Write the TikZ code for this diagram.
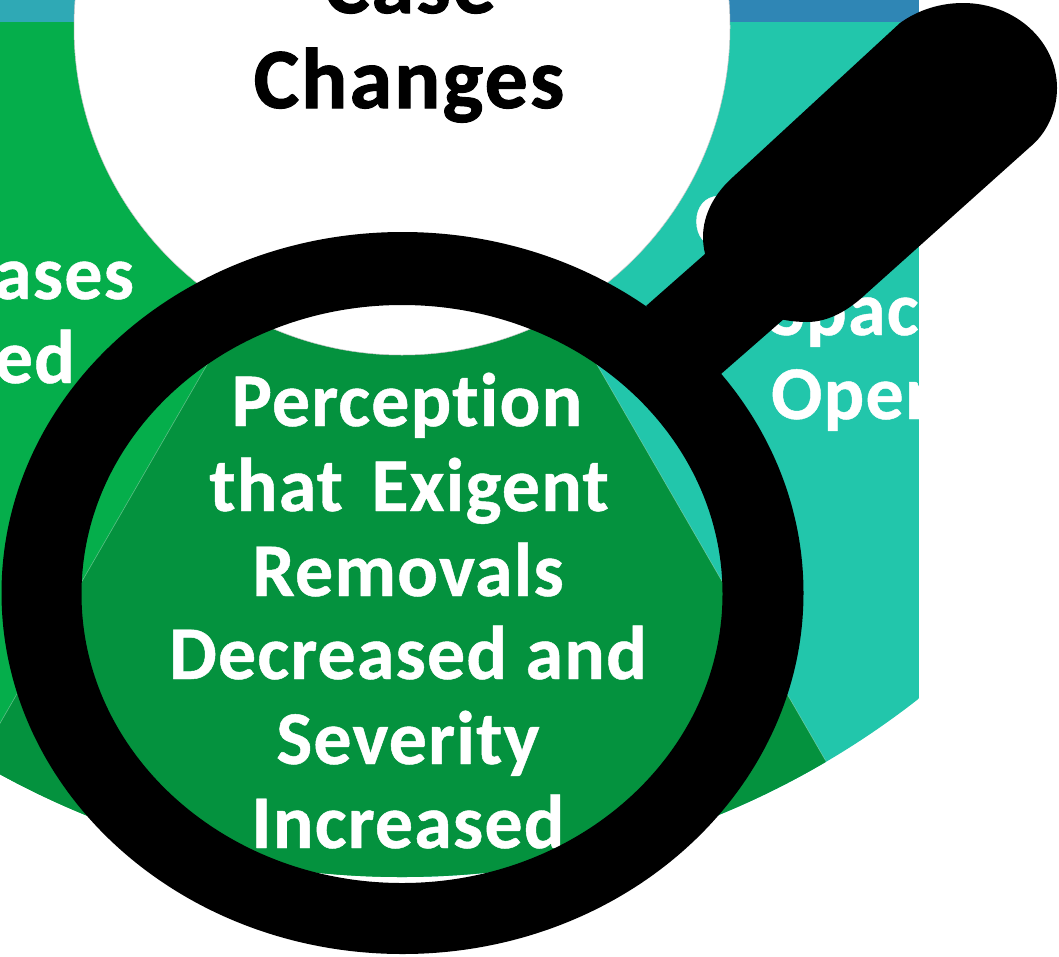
\documentclass[tikz,border=0pt]{standalone}
\usepackage{fontspec}
\setmainfont{Carlito}
\newfontfamily\glw{Carlito}[Ligatures=NoCommon,LetterSpace=1.5,BoldFeatures={FakeBold=0.6}]
\newfontfamily\glb{Carlito}[Ligatures=NoCommon,LetterSpace=2.5,BoldFeatures={FakeBold=1.2}]
\tikzset{
  lbl/.style={anchor=base,inner sep=0pt,outer sep=0pt,text=white,font=\glw\fontsize{76}{76}\selectfont\bfseries},
  blk/.style={lbl,text=black,font=\glb\fontsize{86}{86}\selectfont\bfseries},
  seam/.style={draw=white,draw opacity=.35,line width=.6pt}
}
\definecolor{lgreen}{HTML}{05AE4B}
\definecolor{dgreen}{HTML}{04923E}
\definecolor{teal2}{HTML}{22C6AB}
\definecolor{topl}{HTML}{2FA9B5}
\definecolor{topr}{HTML}{2F86B5}
\begin{document}
\begin{tikzpicture}[x=1pt,y=-1pt]
\useasboundingbox (0,0) rectangle (1059,956);
\coordinate (c) at (402,27);
\coordinate (bl) at (-21.5,760.5);
\coordinate (br) at (825.5,760.5);
\begin{scope}
  \clip (0,0) rectangle (919,956);
  \begin{scope}
    \clip (402,27) ellipse [x radius=843,y radius=850];
    \fill[lgreen] (0,22) rectangle (402,956);
    \fill[teal2] (402,22) rectangle (919,956);
    \fill[dgreen] (c) -- (bl) -- (-21.5,956) -- (825.5,956) -- (br) -- cycle;
    \path[seam] (c) -- (bl);
    \path[seam] (c) -- (br);
  \end{scope}
  \fill[topl] (0,0) rectangle (402,22);
  \fill[topr] (402,0) rectangle (919,22);
  \fill[white] (c) circle [radius=328];
  \draw[gray!45,line width=.5pt] (c) circle [radius=328];
  \node[blk] (case) at (410,13) {Case};
  \node[blk] (changes) at (409,108) {Changes};
  \node[lbl,anchor=base east] (ases) at (134,299) {ases};
  \node[lbl,anchor=base east] (ed) at (75,383) {ed};
  \node[lbl,anchor=base west] (cc) at (695,246) {C};
  \node[lbl,anchor=base west] (space) at (769,335) {Space};
  \node[lbl,anchor=base west] (open) at (771,419) {Open};
\end{scope}
\node[lbl] (l1) at (407,426) {Perception};
\node[lbl] (l2) at (409,511) {that\kern 10pt\ Exigent};
\node[lbl] (l3) at (408,596) {Removals};
\node[lbl] (l4) at (408,679) {Decreased and};
\node[lbl] (l5) at (408,764) {Severity};
\node[lbl] (l6) at (408,848) {Increased};
% magnifying glass
\fill[black,even odd rule] (402.5,593) ellipse [x radius=401,y radius=361]
  (402,594) ellipse [x radius=320.5,y radius=289];
\fill[black] (646,306) -- (705,254) -- (920,200) -- (721,374) -- cycle;
\fill[black] (733,177) -- (900,23) .. controls (918,10) and (940,3) .. (963,3)
  .. controls (1015,3) and (1057,41) .. (1057,88)
  .. controls (1057,112) and (1046,134) .. (1030,147)
  -- (867,293) .. controls (849,310) and (829,322) .. (807,322)
  .. controls (750,322) and (703,284) .. (703,237)
  .. controls (703,214) and (715,193) .. (733,177) -- cycle;
\end{tikzpicture}
\end{document}
